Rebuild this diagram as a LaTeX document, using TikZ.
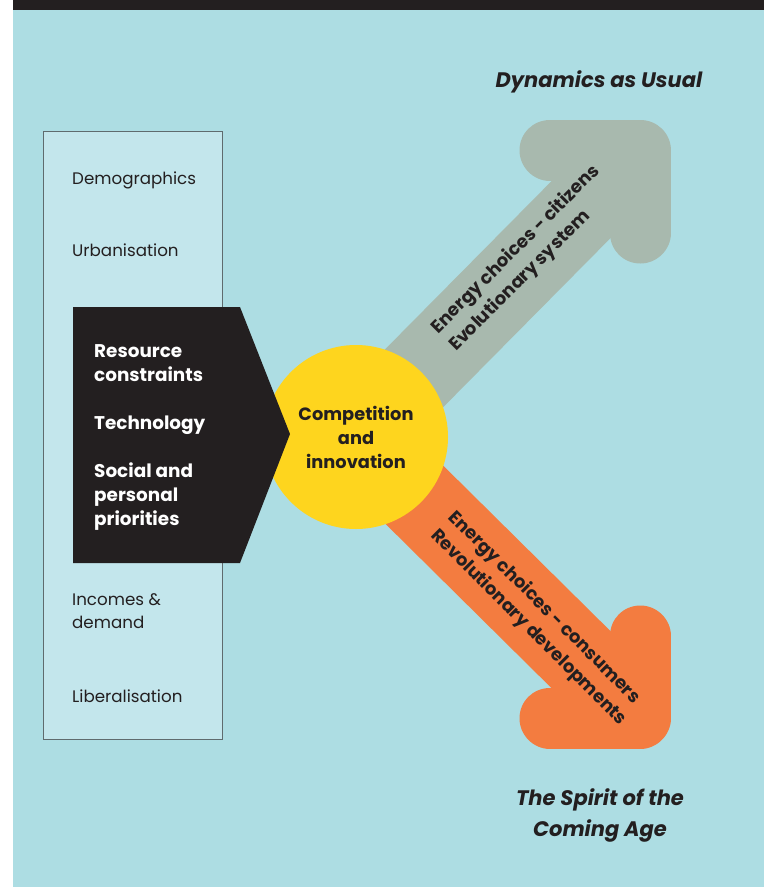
\documentclass[tikz,border=0pt]{standalone}
\usepackage{fontspec}
\setmainfont{Poppins}
\usetikzlibrary{positioning}

\definecolor{sky}{HTML}{ADDDE3}
\definecolor{frost}{HTML}{C3E6EC}
\definecolor{boxline}{HTML}{5F6B6E}
\definecolor{ink}{HTML}{231F20}
\definecolor{sun}{HTML}{FED51E}
\definecolor{sage}{HTML}{A8B9AE}
\definecolor{tangerine}{HTML}{F37C40}

\tikzset{
  factor/.style={anchor=base west, inner sep=0pt, text=ink, font=\fontsize{16.7}{23}\selectfont},
  driver/.style={anchor=base west, inner sep=0pt, text=white, align=left, font=\bfseries\fontsize{18.4}{24}\selectfont},
  shaft/.style={line width=82pt},
  head/.style={line width=61pt, line cap=round, line join=round},
  along/.style={anchor=base west, inner sep=0pt, text=ink, align=left, font=\bfseries\fontsize{18}{25}\selectfont},
  scenario/.style={inner sep=0pt, text=ink, align=center, font=\bfseries\itshape\fontsize{21}{31}\selectfont}
}

\begin{document}
\begin{tikzpicture}[x=1pt,y=1pt]
  \useasboundingbox (0,0) rectangle (764,-887);
  % ground and top band
  \fill[sky] (13,-10) rectangle (764,-887);
  \fill[ink] (13,0) rectangle (764,-10);

  % factor column
  \draw[boxline, fill=frost, line width=0.9pt] (43,-131) rectangle (222,-739);
  \node[factor] (demo) at (72,-184) {Demographics};
  \node[factor] (urban) at (72,-256) {Urbanisation};
  \node[factor, align=left] (income) at (72,-628) {Incomes \&\\demand};
  \node[factor] (liberal) at (72,-702) {Liberalisation};

  % scenario arrows
  \coordinate (mid) at (356,-437);
  \coordinate (upleft) at (550,-150);
  \coordinate (upcorner) at (640,-150);
  \coordinate (updown) at (640,-233);
  \coordinate (lowleft) at (550,-718);
  \coordinate (lowcorner) at (640,-718);
  \coordinate (lowup) at (640,-636);
  \draw[shaft, sage] (mid) -- (upcorner);
  \draw[head, sage] (upleft) -- (upcorner) -- (updown);
  \draw[shaft, tangerine] (mid) -- (lowcorner);
  \draw[head, tangerine] (lowleft) -- (lowcorner) -- (lowup);

  % centre circle
  \node[circle, fill=sun, minimum size=184pt, inner sep=0pt, text=ink, align=center,
        font=\bfseries\fontsize{17.8}{24}\selectfont] (comp) at (mid) {Competition\\and\\innovation};

  % driver block
  \fill[ink] (73,-307) -- (240,-307) -- (290,-434) -- (240,-563) -- (73,-563) -- cycle;
  \node[driver] (drivers) at (94,-525) {Resource\\constraints\\[24pt]Technology\\[24pt]Social and\\personal\\priorities};

  % arrow labels
  \node[along, rotate=45] (citizens) at (456,-352) {Energy choices - citizens\\Evolutionary system};
  \node[along, rotate=-45] (consumers) at (430,-536) {Energy choices - consumers\\Revolutionary developments};

  % scenario names
  \node[scenario] (usual) at (599,-82) {Dynamics as Usual};
  \node[scenario] (spirit) at (600,-815) {The Spirit of the\\Coming Age};
\end{tikzpicture}
\end{document}
